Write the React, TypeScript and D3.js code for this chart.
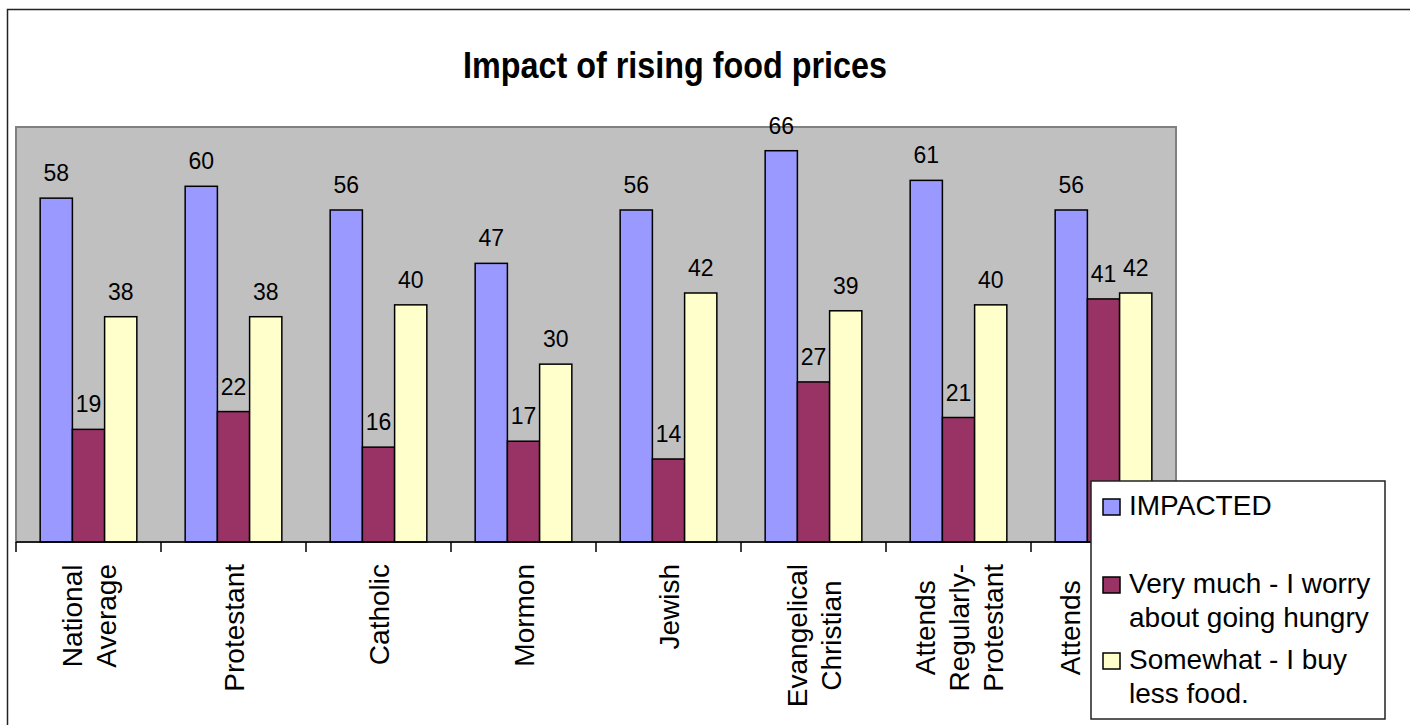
import * as d3 from "d3";

const categories = [
  ["National", "Average"],
  ["Protestant"],
  ["Catholic"],
  ["Mormon"],
  ["Jewish"],
  ["Evangelical", "Christian"],
  ["Attends", "Regularly-", "Protestant"],
  ["Attends", "Regularly-", "Catholic"],
];

const seriesNames = [
  ["IMPACTED"],
  ["Very much - I worry", "about going hungry"],
  ["Somewhat - I buy", "less food."],
];
const seriesColors = ["#9999ff", "#993366", "#ffffcc"];

const impacted = [58, 60, 56, 47, 56, 66, 61, 56];
const veryMuch = [19, 22, 16, 17, 14, 27, 21, 41];
const somewhat = [38, 38, 40, 30, 42, 39, 40, 42];
const series = [impacted, veryMuch, somewhat];

const FONT = "'Liberation Sans', Arial, Helvetica, sans-serif";

// measure text once for centering the rotated category labels
const ctx = typeof document !== "undefined" ? document.createElement("canvas").getContext("2d") : null;
function textWidth(s: string, size: number) {
  if (!ctx) return s.length * size * 0.5;
  ctx.font = `${size}px ${FONT}`;
  return ctx.measureText(s).width;
}

export default function App() {
  const width = 1410;
  const height = 725;
  const plot = { left: 16, right: 1176, top: 127, bottom: 542 };

  const x = d3
    .scaleBand<number>()
    .domain(d3.range(categories.length))
    .range([plot.left, plot.right])
    .padding(0);
  const y = d3.scaleLinear().domain([0, 70]).range([plot.bottom, plot.top]);

  const bw = x.bandwidth() / 4.5; // Excel gap width 150%
  const labelSize = 28;
  const lineGap = 34;
  const labelTop = 564;

  return (
    <svg
      width={width}
      height={height}
      style={{ position: "absolute", left: 0, top: 0, background: "#fff" }}
      fontFamily={FONT}
    >
      {/* chart area border (runs off the right and bottom edges) */}
      <rect x={7.5} y={9.5} width={1500} height={800} fill="#fff" stroke="#222" strokeWidth={1.5} />

      <text transform="translate(675,78) scale(0.98,1.1)" textAnchor="middle" fontSize={33} fontWeight="bold">
        Impact of rising food prices
      </text>

      {/* plot area */}
      <rect
        x={plot.left}
        y={plot.top}
        width={plot.right - plot.left}
        height={plot.bottom - plot.top}
        fill="#c0c0c0"
        stroke="#808080"
        strokeWidth={2}
      />

      {/* bars */}
      {series.map((vals, si) =>
        vals.map((v, ci) => {
          const bx = (x(ci) as number) + 0.75 * bw + si * bw;
          return (
            <rect
              key={`b${si}-${ci}`}
              x={bx}
              y={y(v)}
              width={bw}
              height={plot.bottom - y(v)}
              fill={seriesColors[si]}
              stroke="#000"
              strokeWidth={1.5}
            />
          );
        })
      )}

      {/* value labels */}
      {series.map((vals, si) =>
        vals.map((v, ci) => {
          const bx = (x(ci) as number) + 0.75 * bw + si * bw + bw / 2;
          return (
            <text key={`v${si}-${ci}`} x={bx} y={y(v) - 17} textAnchor="middle" fontSize={23}>
              {v}
            </text>
          );
        })
      )}

      {/* x axis */}
      <line x1={plot.left} x2={plot.right} y1={plot.bottom} y2={plot.bottom} stroke="#000" strokeWidth={1.5} />
      {d3.range(categories.length + 1).map((i) => {
        const tx = plot.left + i * x.bandwidth();
        return <line key={`t${i}`} x1={tx} x2={tx} y1={plot.bottom} y2={plot.bottom + 10} stroke="#000" strokeWidth={1.5} />;
      })}

      {/* category labels, rotated */}
      {categories.map((lines, ci) => {
        const cx = (x(ci) as number) + x.bandwidth() / 2;
        const maxLen = d3.max(lines, (l) => textWidth(l, labelSize)) as number;
        const cy = labelTop + maxLen / 2;
        return lines.map((l, li) => {
          const bx = cx + 10 + (li - (lines.length - 1) / 2) * lineGap;
          return (
            <text
              key={`c${ci}-${li}`}
              transform={`translate(${bx},${cy}) rotate(-90)`}
              textAnchor="middle"
              fontSize={labelSize}
            >
              {l}
            </text>
          );
        });
      })}

      {/* legend */}
      <rect x={1091} y={481} width={294} height={238} fill="#fff" stroke="#222" strokeWidth={1.5} />
      {seriesNames.map((lines, si) => {
        const base = [515, 593, 669][si];
        return (
          <g key={`l${si}`}>
            <rect x={1103} y={base - 16} width={17} height={16} fill={seriesColors[si]} stroke="#000" strokeWidth={1.5} />
            {lines.map((l, li) => (
              <text key={li} x={1129} y={base + li * 33.5} fontSize={labelSize}>
                {l}
              </text>
            ))}
          </g>
        );
      })}
    </svg>
  );
}
